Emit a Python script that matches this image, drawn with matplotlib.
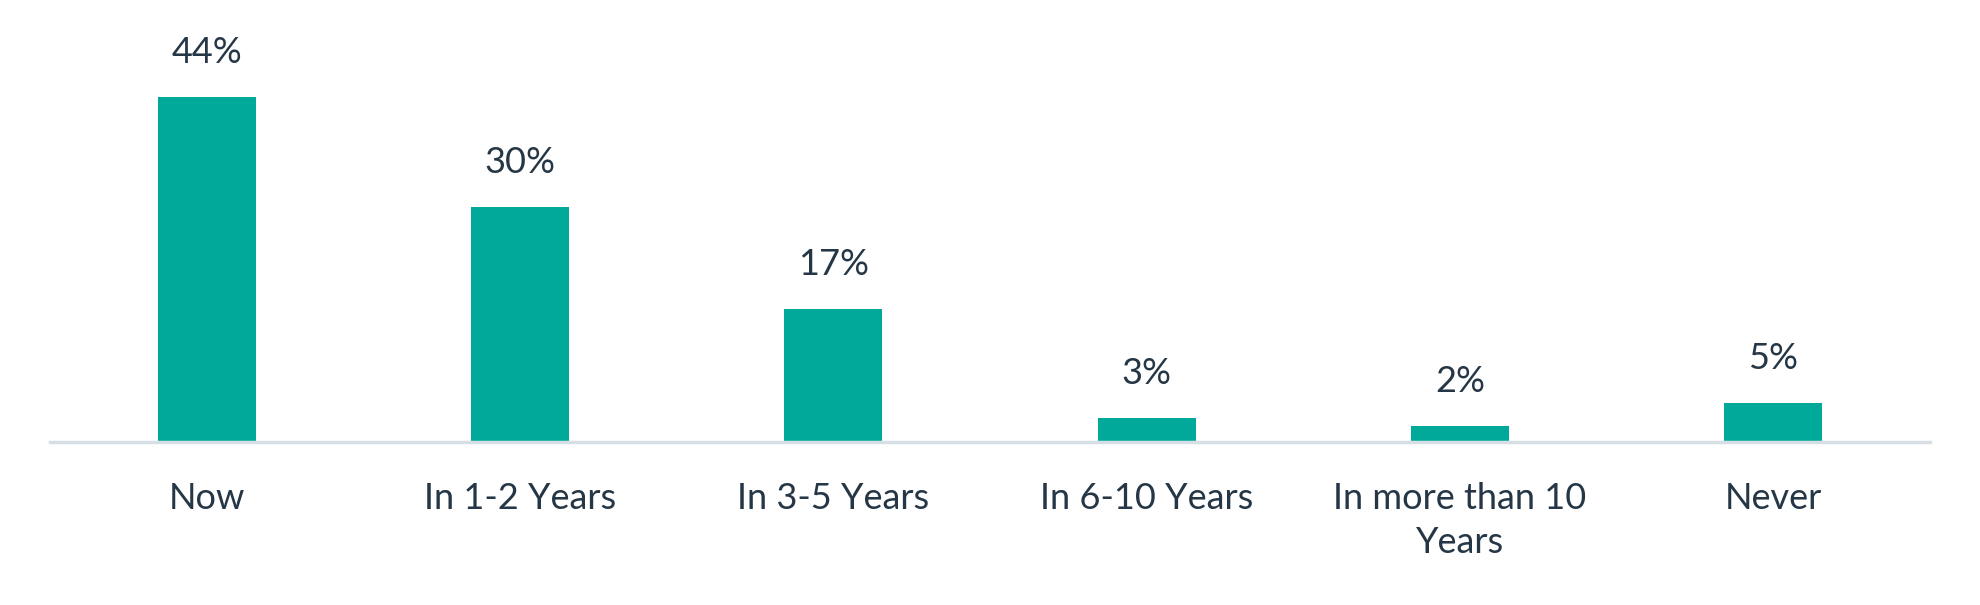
import matplotlib
matplotlib.use('Agg')
import matplotlib.pyplot as plt

categories = ['Now', 'In 1-2 Years', 'In 3-5 Years', 'In 6-10 Years', 'In more than 10\nYears', 'Never']
values = [44, 30, 17, 3, 2, 5]

bar_color = '#00A99A'
text_color = '#253746'
line_color = '#D6DEE6'

plt.rcParams['font.family'] = ['Lato', 'DejaVu Sans']

fig = plt.figure(figsize=(19.8, 6.05), dpi=100, facecolor='white')
ax = fig.add_axes([50 / 1980, (605 - 442) / 605, 1880 / 1980, 392 / 605])

x = list(range(len(categories)))
ax.bar(x, values, width=0.313, color=bar_color, zorder=2)

for xi, v in zip(x, values):
    ax.annotate(f'{v}%', (xi, v), xytext=(0, 28), textcoords='offset pixels',
                ha='center', va='bottom', fontsize=26, color=text_color)

ax.set_xlim(-0.5, 5.5)
ax.set_ylim(0, 50)
ax.set_xticks(x)
ax.set_xticklabels(categories, fontsize=26, color=text_color, linespacing=1.4)
ax.tick_params(axis='x', length=0, pad=29)
ax.set_yticks([])

for side in ['top', 'right', 'left']:
    ax.spines[side].set_visible(False)
ax.spines['bottom'].set_color(line_color)
ax.spines['bottom'].set_linewidth(2.5)
ax.spines['bottom'].set_zorder(3)

fig.savefig('out.png', dpi=100, facecolor='white')
